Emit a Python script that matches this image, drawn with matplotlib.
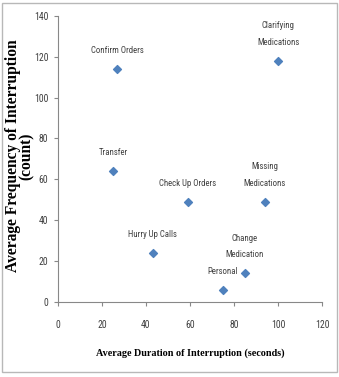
import matplotlib
matplotlib.use("Agg")
import matplotlib.pyplot as plt
from matplotlib.patches import Rectangle
from matplotlib import font_manager as fm

labels = ["Confirm Orders", "Clarifying\nMedications", "Transfer", "Check Up Orders",
          "Missing\nMedications", "Hurry Up Calls", "Change\nMedication", "Personal"]
duration = [27, 100, 25, 59, 94, 43, 85, 75]
frequency = [114, 118, 64, 49, 49, 24, 14, 6]
xticks = [0, 20, 40, 60, 80, 100, 120]
yticks = [0, 20, 40, 60, 80, 100, 120, 140]

# pick a narrow sans face if one is installed
narrow_family, narrow_stretch, narrow_scale = "Liberation Sans", "normal", 0.8
names = {(f.name, f.stretch) for f in fm.fontManager.ttflist}
found = False
for cand in ["Liberation Sans Narrow", "Arial Narrow", "Roboto Condensed",
             "Open Sans Condensed", "Noto Sans Condensed", "DejaVu Sans Condensed"]:
    if any(n == cand for n, s in names):
        narrow_family, narrow_stretch, narrow_scale = cand, "normal", 1.0
        found = True
        break
if not found:
    for n, s in sorted(names):
        if n in ("Noto Sans", "Open Sans", "DejaVu Sans", "Roboto", "Inter", "Lato") and \
                s in ("condensed", "semi-condensed", "extra-condensed", "ultra-condensed"):
            narrow_family, narrow_stretch, narrow_scale = n, s, 1.0
            found = True
            break

lab_fs = 6.3 * narrow_scale if found else 5.6
tick_fs = 7.0 if found else 6.5

fig = plt.figure(figsize=(3.39, 3.77), dpi=100)
fig.patches.append(Rectangle((0.006, 0.013), 0.988, 0.979, transform=fig.transFigure,
                             fill=False, edgecolor="#b8b8b8", linewidth=1.0))
ax = fig.add_axes([0.171, 0.199, 0.779, 0.759])

ax.scatter(duration, frequency, marker="D", s=16, color="#4F81BD", zorder=3)
for lab, x, y in zip(labels, duration, frequency):
    ax.annotate(lab, (x, y), xytext=(0, 10), textcoords="offset points",
                ha="center", va="bottom", fontsize=lab_fs, color="#404040",
                fontfamily=narrow_family, fontstretch=narrow_stretch, linespacing=2.1)

ax.set_xlim(0, 120)
ax.set_ylim(0, 140)
ax.set_xticks(xticks)
ax.set_yticks(yticks)
for s in ["top", "right"]:
    ax.spines[s].set_visible(False)
for s in ["left", "bottom"]:
    ax.spines[s].set_color("#888888")
    ax.spines[s].set_linewidth(0.8)
ax.tick_params(axis="both", colors="#888888", length=3, width=0.8, labelsize=tick_fs,
               labelcolor="#404040")
ax.tick_params(axis="x", pad=10)
ax.tick_params(axis="y", pad=4)
for t in ax.get_xticklabels() + ax.get_yticklabels():
    t.set_fontfamily(narrow_family)
    t.set_fontstretch(narrow_stretch)

ax.set_xlabel("Average Duration of Interruption (seconds)", fontsize=7.3,
              fontweight="bold", fontfamily="Liberation Serif", labelpad=13)
fig.text(20 / 339, 1 - 156 / 377, "Average Frequency of Interruption\n(count)",
         rotation=90, ha="center", va="center", fontsize=11.2, fontweight="bold",
         fontfamily="Liberation Serif", linespacing=0.85)

fig.savefig("out.png", dpi=100)
